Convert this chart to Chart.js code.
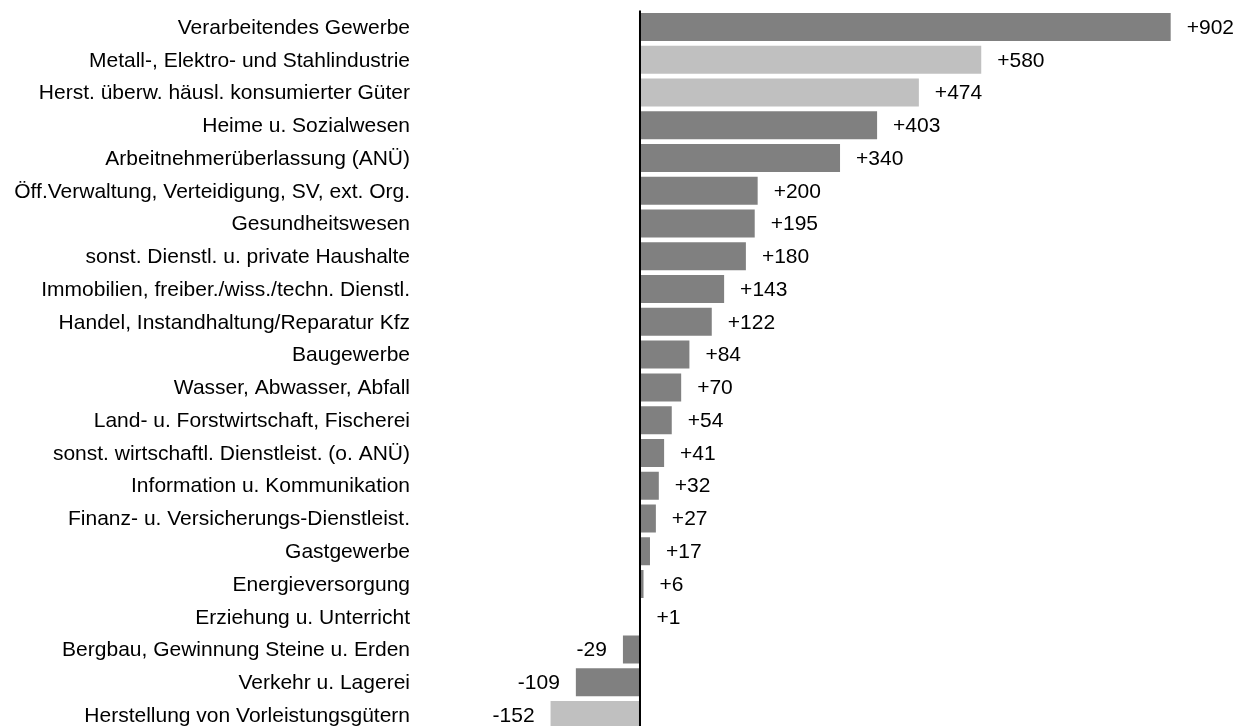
<!DOCTYPE html>
<html>
<head>
<meta charset="utf-8">
<script src="https://cdn.jsdelivr.net/npm/chart.js@4/dist/chart.umd.min.js"></script>
<style>
  html, body { margin: 0; padding: 0; background: #fff; overflow: hidden; }
  canvas { display: block; }
</style>
</head>
<body>
<canvas id="c" width="1242" height="732"></canvas>
<script>
const categories = [
  "Verarbeitendes Gewerbe",
  "Metall-, Elektro- und Stahlindustrie",
  "Herst. überw. häusl. konsumierter Güter",
  "Heime u. Sozialwesen",
  "Arbeitnehmerüberlassung (ANÜ)",
  "Öff.Verwaltung, Verteidigung, SV, ext. Org.",
  "Gesundheitswesen",
  "sonst. Dienstl. u. private Haushalte",
  "Immobilien, freiber./wiss./techn. Dienstl.",
  "Handel, Instandhaltung/Reparatur Kfz",
  "Baugewerbe",
  "Wasser, Abwasser, Abfall",
  "Land- u. Forstwirtschaft, Fischerei",
  "sonst. wirtschaftl. Dienstleist. (o. ANÜ)",
  "Information u. Kommunikation",
  "Finanz- u. Versicherungs-Dienstleist.",
  "Gastgewerbe",
  "Energieversorgung",
  "Erziehung u. Unterricht",
  "Bergbau, Gewinnung Steine u. Erden",
  "Verkehr u. Lagerei",
  "Herstellung von Vorleistungsgütern"
];
const values = [902, 580, 474, 403, 340, 200, 195, 180, 143, 122, 84, 70, 54, 41, 32, 27, 17, 6, 1, -29, -109, -152];
const subSectors = [
  "Metall-, Elektro- und Stahlindustrie",
  "Herst. überw. häusl. konsumierter Güter",
  "Herstellung von Vorleistungsgütern"
];

const DARK = "#808080";
const LIGHT = "#c0c0c0";
const FONT = "'Liberation Sans', Arial, sans-serif";
const FS = 21;

const zeroLine = {
  id: "zeroLine",
  afterDatasetsDraw(chart) {
    const { ctx, chartArea, scales } = chart;
    const x = scales.x.getPixelForValue(0);
    ctx.save();
    ctx.strokeStyle = "#000";
    ctx.lineWidth = 2;
    ctx.beginPath();
    ctx.moveTo(x, chartArea.top);
    ctx.lineTo(x, chartArea.bottom);
    ctx.stroke();
    ctx.restore();
  }
};

const labelsPlugin = {
  id: "labelsPlugin",
  afterDatasetsDraw(chart) {
    const { ctx, chartArea, scales } = chart;
    const meta = chart.getDatasetMeta(0);
    ctx.save();
    ctx.font = FS + "px " + FONT;
    ctx.fillStyle = "#000";
    ctx.textBaseline = "middle";
    categories.forEach((c, i) => {
      const y = scales.y.getPixelForValue(i);
      ctx.textAlign = "right";
      ctx.fillText(c, chartArea.left - 10, y + 1);
    });
    meta.data.forEach((bar, i) => {
      const v = values[i];
      const txt = (v > 0 ? "+" : "") + v;
      if (v >= 0) {
        ctx.textAlign = "left";
        ctx.fillText(txt, bar.x + 16, bar.y + 1);
      } else {
        ctx.textAlign = "right";
        ctx.fillText(txt, bar.x - 16, bar.y + 1);
      }
    });
    ctx.restore();
  }
};

new Chart(document.getElementById("c"), {
  type: "bar",
  data: {
    labels: categories,
    datasets: [{
      data: values,
      backgroundColor: categories.map(c => subSectors.includes(c) ? LIGHT : DARK),
      borderWidth: 0,
      barPercentage: 0.855,
      categoryPercentage: 1
    }]
  },
  options: {
    indexAxis: "y",
    responsive: false,
    animation: false,
    layout: { padding: { top: 10.6, bottom: 0.6, left: 420, right: 0 } },
    plugins: { legend: { display: false }, tooltip: { enabled: false } },
    scales: {
      x: { display: false, min: -373.9, max: 1023.2 },
      y: { display: false }
    }
  },
  plugins: [zeroLine, labelsPlugin]
});
</script>
</body>
</html>
